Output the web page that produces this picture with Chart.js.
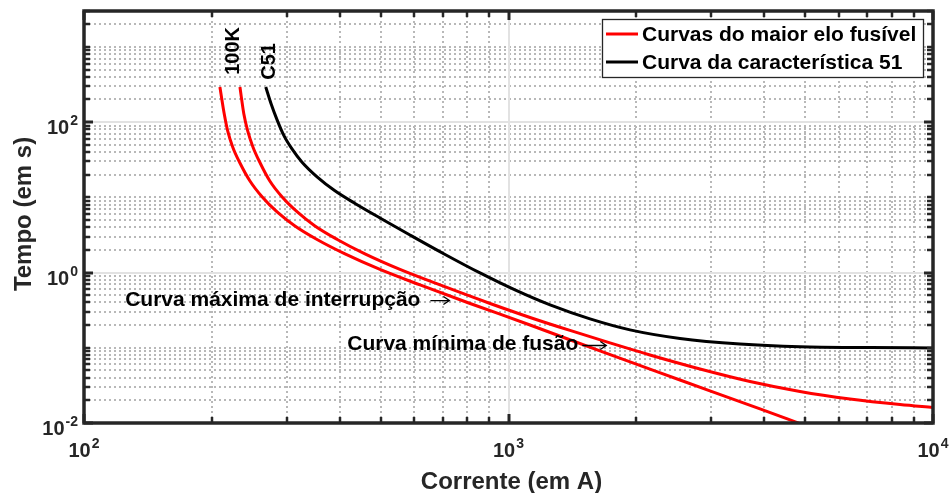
<!DOCTYPE html>
<html>
<head>
<meta charset="utf-8">
<script src="https://cdn.jsdelivr.net/npm/chart.js@4.4.1/dist/chart.umd.min.js"></script>
<style>
  html, body { margin: 0; padding: 0; background: #fff; }
  #wrap { width: 951px; height: 493px; }
</style>
</head>
<body>
<div id="wrap"><canvas id="grafico" width="951" height="493"></canvas></div>
<script>
// Curva mínima de fusão (elo 100K) - corrente (A) x tempo (s)
var fusaoMinI = [209, 214, 218, 224, 233, 246, 263, 285, 314, 354, 412, 498, 619, 812, 1124, 1642, 2535, 3913, 4913];
var fusaoMinT = [293, 128, 76.3, 46.8, 28.6, 16.5, 10.1, 6.39, 4.16, 2.75, 1.77, 1.1, 0.684, 0.388, 0.201, 0.0907, 0.0373, 0.0154, 0.0096];

// Curva máxima de interrupção (elo 100K)
var interrMaxI = [233, 238, 243, 250, 260, 274, 293, 318, 350, 395, 459, 555, 690, 905, 1124, 1396, 1734, 2154, 2826, 3706, 4860, 6375, 8362, 10000];
var interrMaxT = [293, 128, 76.3, 46.8, 28.6, 16.5, 10.1, 6.39, 4.16, 2.75, 1.77, 1.1, 0.684, 0.388, 0.253, 0.17, 0.116, 0.0803, 0.0523, 0.0357, 0.0263, 0.0209, 0.0176, 0.0161];

// Curva da característica 51 (relé)
var rele51I = [268, 276, 285, 296, 309, 326, 354, 390, 435, 498, 586, 709, 857, 1036, 1253, 1556, 1933, 2535, 3510, 4860, 7107, 10000];
var rele51T = [293, 174, 107, 65.5, 44, 29.5, 18.7, 12.2, 8.29, 5.32, 3.16, 1.74, 0.988, 0.587, 0.371, 0.242, 0.173, 0.133, 0.112, 0.103, 0.1005, 0.0995];

// Rótulos dos eixos (10^n)
var xTicks = [100, 1000, 10000];
var xTickExp = ['2', '3', '4'];
var yTicks = [0.01, 1, 100];
var yTickExp = ['-2', '0', '2'];

// Textos sobre o gráfico (posição em valores de corrente/tempo)
var anotTexto = ['Curva máxima de interrupção', 'Curva mínima de fusão'];
var anotI = [125, 417];
var anotT = [0.364, 0.0948];
var rotTexto = ['100K', 'C51'];
var rotI = [232, 282];
var rotT = [426, 366];

var fonte = '"Liberation Sans", Arial, Helvetica, sans-serif';
var corEixo = '#262626';

function pontos(xs, ys) {
    return xs.map(function(x, i) { return { x: x, y: ys[i] }; });
}

function ehPrincipal(v, principais) {
    return principais.some(function(p) { return Math.abs(Math.log10(v) - Math.log10(p)) < 1e-6; });
}

// valores 1..9 x 10^n dentro do eixo
function valoresLog(min, max) {
    var lista = [];
    for (var d = Math.floor(Math.log10(min)); d <= Math.ceil(Math.log10(max)); d++) {
        for (var m = 1; m <= 9; m++) {
            var v = m * Math.pow(10, d);
            if (v >= min * 0.999 && v <= max * 1.001) lista.push(v);
        }
    }
    return lista;
}

function linha(ctx, x1, y1, x2, y2) {
    ctx.beginPath();
    ctx.moveTo(x1, y1);
    ctx.lineTo(x2, y2);
    ctx.stroke();
}

function seta(ctx, x, y, comp) {
    ctx.beginPath();
    ctx.moveTo(x, y);
    ctx.lineTo(x + comp, y);
    ctx.moveTo(x + comp - 6, y - 4);
    ctx.lineTo(x + comp, y);
    ctx.lineTo(x + comp - 6, y + 4);
    ctx.stroke();
}

function rotuloPotencia(ctx, exp, x, y, alinhamento) {
    ctx.font = 'bold 20px ' + fonte;
    var wb = ctx.measureText('10').width;
    ctx.font = 'bold 14px ' + fonte;
    var we = ctx.measureText(exp).width;
    var w = wb + we + 1;
    var x0 = alinhamento === 'center' ? x - w / 2 : x - w;
    ctx.textAlign = 'left';
    ctx.textBaseline = 'alphabetic';
    ctx.font = 'bold 20px ' + fonte;
    ctx.fillText('10', x0, y);
    ctx.font = 'bold 14px ' + fonte;
    ctx.fillText(exp, x0 + wb + 1, y - 9);
}

var eixosMatlab = {
    id: 'eixosMatlab',
    beforeDatasetsDraw: function(chart) {
        var ctx = chart.ctx, a = chart.chartArea;
        var sx = chart.scales.x, sy = chart.scales.y;
        ctx.save();
        // grade secundária pontilhada
        ctx.strokeStyle = '#b8b8b8';
        ctx.lineWidth = 2;
        ctx.setLineDash([2, 3]);
        valoresLog(sx.min, sx.max).forEach(function(v) {
            if (ehPrincipal(v, xTicks)) return;
            var px = Math.round(sx.getPixelForValue(v));
            linha(ctx, px, a.top, px, a.bottom);
        });
        valoresLog(sy.min, sy.max).forEach(function(v) {
            if (ehPrincipal(v, yTicks)) return;
            var py = Math.round(sy.getPixelForValue(v));
            linha(ctx, a.left, py, a.right, py);
        });
        // grade principal
        ctx.setLineDash([]);
        ctx.strokeStyle = '#e2e2e2';
        xTicks.forEach(function(v) {
            var px = Math.round(sx.getPixelForValue(v));
            linha(ctx, px, a.top, px, a.bottom);
        });
        yTicks.forEach(function(v) {
            var py = Math.round(sy.getPixelForValue(v));
            linha(ctx, a.left, py, a.right, py);
        });
        ctx.restore();
    },
    afterDraw: function(chart) {
        var ctx = chart.ctx, a = chart.chartArea;
        var sx = chart.scales.x, sy = chart.scales.y;
        ctx.save();
        // marcas internas nos quatro lados
        ctx.strokeStyle = corEixo;
        valoresLog(sx.min, sx.max).forEach(function(v) {
            var maior = ehPrincipal(v, xTicks);
            var t = maior ? 9 : 6;
            ctx.lineWidth = maior ? 3 : 2.5;
            var px = Math.round(sx.getPixelForValue(v));
            linha(ctx, px, a.bottom, px, a.bottom - t);
            linha(ctx, px, a.top, px, a.top + t);
        });
        valoresLog(sy.min, sy.max).forEach(function(v) {
            var maior = ehPrincipal(v, yTicks);
            var t = maior ? 9 : 6;
            ctx.lineWidth = maior ? 3 : 2.5;
            var py = Math.round(sy.getPixelForValue(v));
            linha(ctx, a.left, py, a.left + t, py);
            linha(ctx, a.right, py, a.right - t, py);
        });
        // moldura
        ctx.lineWidth = 3.5;
        ctx.strokeRect(a.left, a.top, a.right - a.left, a.bottom - a.top);

        // rótulos dos eixos
        ctx.fillStyle = corEixo;
        xTicks.forEach(function(v, i) {
            rotuloPotencia(ctx, xTickExp[i], sx.getPixelForValue(v), a.bottom + 34, 'center');
        });
        yTicks.forEach(function(v, i) {
            rotuloPotencia(ctx, yTickExp[i], a.left - 6, sy.getPixelForValue(v) + 12, 'right');
        });

        // títulos dos eixos
        ctx.font = 'bold 24px ' + fonte;
        ctx.textAlign = 'center';
        ctx.textBaseline = 'alphabetic';
        ctx.fillText('Corrente (em A)', (a.left + a.right) / 2 + 3, 489);
        ctx.save();
        ctx.translate(31, 214);
        ctx.rotate(-Math.PI / 2);
        ctx.fillText('Tempo (em s)', 0, 0);
        ctx.restore();

        // anotações com seta
        ctx.fillStyle = '#000';
        ctx.strokeStyle = '#000';
        ctx.textAlign = 'left';
        anotTexto.forEach(function(txt, i) {
            var px = sx.getPixelForValue(anotI[i]);
            var py = sy.getPixelForValue(anotT[i]);
            ctx.font = 'bold 21px ' + fonte;
            ctx.fillText(txt, px, py);
            var w = ctx.measureText(txt).width;
            ctx.lineWidth = 1.3;
            seta(ctx, px + w + (i === 0 ? 10 : 4), py - (i === 0 ? 5 : 4), i === 0 ? 19 : 24);
        });

        // nomes das curvas (texto vertical)
        ctx.font = 'bold 20px ' + fonte;
        rotTexto.forEach(function(txt, i) {
            ctx.save();
            ctx.translate(sx.getPixelForValue(rotI[i]), sy.getPixelForValue(rotT[i]));
            ctx.rotate(-Math.PI / 2);
            ctx.fillText(txt, 0, 0);
            ctx.restore();
        });

        // legenda
        var vistos = [];
        var itens = [];
        chart.data.datasets.forEach(function(ds) {
            if (vistos.indexOf(ds.label) < 0) {
                vistos.push(ds.label);
                itens.push(ds);
            }
        });
        var lx = a.right - 331, ly = a.top + 8, lw = 321, lh = 58;
        ctx.fillStyle = '#fff';
        ctx.fillRect(lx, ly, lw, lh);
        ctx.strokeStyle = corEixo;
        ctx.lineWidth = 1.3;
        ctx.strokeRect(lx + 0.5, ly + 0.5, lw, lh);
        ctx.font = 'bold 21px ' + fonte;
        ctx.textBaseline = 'middle';
        itens.forEach(function(ds, i) {
            var yy = ly + 15 + i * 28;
            ctx.strokeStyle = ds.borderColor;
            ctx.lineWidth = 3;
            linha(ctx, lx + 4, yy, lx + 36, yy);
            ctx.fillStyle = '#000';
            ctx.fillText(ds.label, lx + 40, yy + 1);
        });
        ctx.restore();
    }
};

var grafico = new Chart(document.getElementById('grafico').getContext('2d'), {
    type: 'line',
    data: {
        datasets: [{
            label: 'Curvas do maior elo fusível',
            data: pontos(fusaoMinI, fusaoMinT),
            borderColor: '#ff0000'
        }, {
            label: 'Curvas do maior elo fusível',
            data: pontos(interrMaxI, interrMaxT),
            borderColor: '#ff0000'
        }, {
            label: 'Curva da característica 51',
            data: pontos(rele51I, rele51T),
            borderColor: '#000000'
        }]
    },
    options: {
        responsive: false,
        animation: false,
        devicePixelRatio: 1,
        layout: { padding: { top: 11, right: 18, left: 0, bottom: 0 } },
        elements: {
            point: { radius: 0 },
            line: { borderWidth: 3, cubicInterpolationMode: 'monotone', fill: false }
        },
        scales: {
            x: {
                type: 'logarithmic',
                min: 100,
                max: 10000,
                ticks: { display: false },
                grid: { display: false },
                border: { display: false },
                afterFit: function(s) { s.height = 70; }
            },
            y: {
                type: 'logarithmic',
                min: 0.01,
                max: 3000,
                ticks: { display: false },
                grid: { display: false },
                border: { display: false },
                afterFit: function(s) { s.width = 84; }
            }
        },
        plugins: {
            legend: { display: false },
            tooltip: { enabled: false }
        }
    },
    plugins: [eixosMatlab]
});
</script>
</body>
</html>
